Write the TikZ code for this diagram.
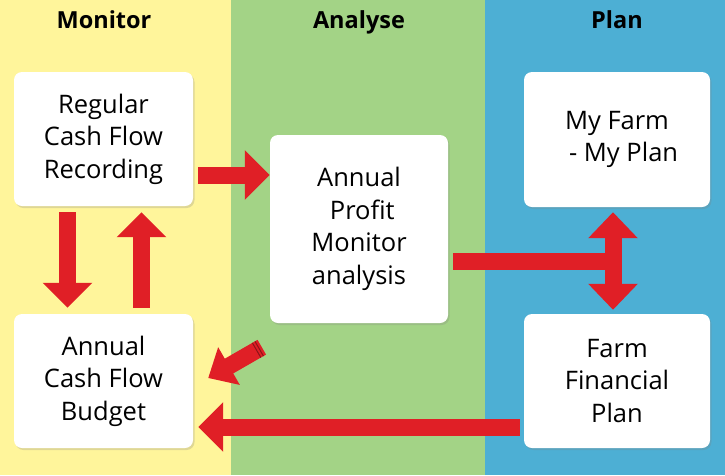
\documentclass[tikz,border=0pt]{standalone}
\usepackage{fontspec}
\setmainfont{Open Sans}
\usetikzlibrary{arrows.meta}
\usetikzlibrary{positioning}
\usetikzlibrary{shadows, calc}

\definecolor{monyellow}{HTML}{FFF59B}
\definecolor{anagreen}{HTML}{A3D386}
\definecolor{planblue}{HTML}{4DAFD4}
\definecolor{arrowred}{HTML}{E01F26}
\definecolor{darkred}{HTML}{8E1418}

\begin{document}
\begin{tikzpicture}[x=1pt,y=-1pt,
  heading/.style={font=\fontsize{23.5}{28}\selectfont\bfseries,text=black,anchor=base},
  box/.style={rectangle,rounded corners=8pt,fill=white,inner sep=0pt,align=center,
    font=\fontsize{25.5}{32.5}\selectfont,
    drop shadow={opacity=0.25,shadow xshift=1.5pt,shadow yshift=-2pt}},
  fat/.style={draw=arrowred,line width=17pt,-{Triangle[width=48pt,length=25pt]}},
  fatboth/.style={draw=arrowred,line width=17pt,{Triangle[width=48pt,length=26pt]}-{Triangle[width=48pt,length=26pt]}},
  fatbar/.style={draw=arrowred,line width=17pt},
  smallfat/.style={draw=arrowred,line width=17pt,-{Triangle[width=42pt,length=24pt]}}]
\useasboundingbox (0,0) rectangle (725,475);
% stage bands
\fill[monyellow] (0,0) rectangle (231,475);
\fill[anagreen] (231,0) rectangle (485,475);
\fill[planblue] (485,0) rectangle (725,475);
\node[heading] (hmon) at (104,28) {Monitor};
\node[heading] (hana) at (359,28) {Analyse};
\node[heading] (hpla) at (617,28) {Plan};

% boxes
\node[box,minimum width=179pt,minimum height=134pt] (rec) at (103.5,139) {Regular\\Cash Flow\\Recording};
\node[box,minimum width=179pt,minimum height=134pt] (bud) at (103.5,381) {Annual\\Cash Flow\\Budget};
\node[box,minimum width=178pt,minimum height=188pt] (apm) at (359,229) {Annual\\\ Profit\\Monitor\\analysis};
\node[box,minimum width=186pt,minimum height=135pt] (farm) at (617,139.5) {My Farm\\\ \ - My Plan};
\node[box,minimum width=186pt,minimum height=134pt] (ffp) at (617,381) {Farm\\Financial\\Plan};

% arrows
\draw[fat] ([xshift=5pt,yshift=-36pt]rec.east) -- ([yshift=-36pt]rec.east -| apm.west);
\draw[fat] ([xshift=-36pt,yshift=-6pt]rec.south) -- ([xshift=-36pt,yshift=6pt]bud.north);
\draw[fat] ([xshift=38pt,yshift=6pt]bud.north) -- ([xshift=38pt,yshift=-6pt]rec.south);
\coordinate (vtop) at ([xshift=-4pt,yshift=-5pt]farm.south);
\coordinate (vbot) at ([xshift=-4pt,yshift=4pt]ffp.north);
\coordinate (barstart) at ([xshift=5pt,yshift=-32.5pt]apm.east);
\draw[fatbar] (barstart) -- (barstart -| vtop);
\draw[fatboth] (vtop) -- (vbot);
\draw[fat] ([xshift=-4pt,yshift=-46pt]ffp.west) -- ([xshift=5pt,yshift=-46pt]bud.east);
% small slanted arrow
\coordinate (dtail) at ([shift={(-8pt,-24pt)}]apm.south west);
\coordinate (dtip) at ([shift={(15pt,3pt)}]bud.east);
\draw[smallfat] (dtail) -- (dtip);
\draw[darkred,line width=1pt] ($($(dtail)!3pt!(dtip)$)!8.5pt!90:(dtip)$) -- ($($(dtail)!3pt!(dtip)$)!8.5pt!-90:(dtip)$);
\draw[darkred,line width=1pt] ($($(dtail)!6pt!(dtip)$)!8.5pt!90:(dtip)$) -- ($($(dtail)!6pt!(dtip)$)!8.5pt!-90:(dtip)$);
\end{tikzpicture}
\end{document}
